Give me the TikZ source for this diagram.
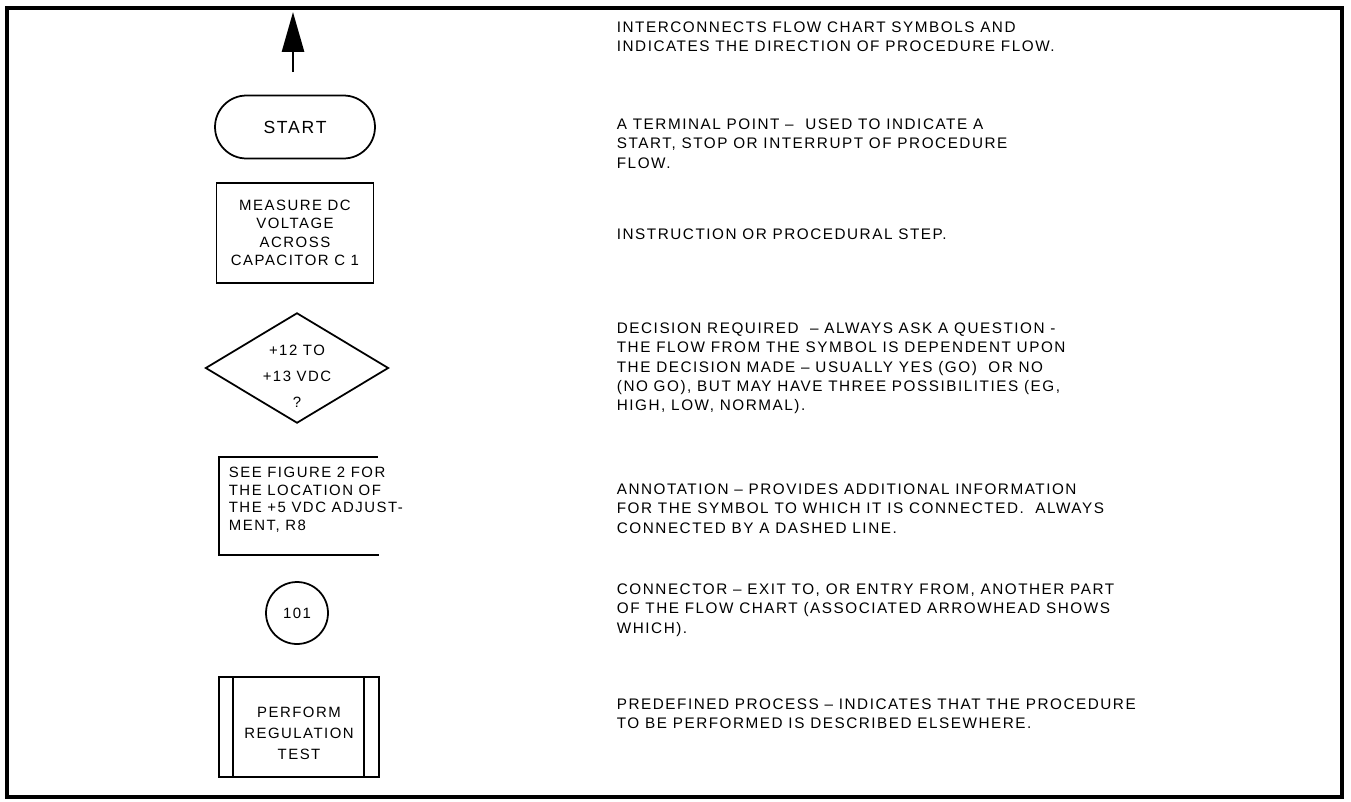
\documentclass[tikz,border=0pt]{standalone}
\usepackage{fontspec}
\newfontfamily\chartfont[LetterSpace=10]{Liberation Sans}
\usetikzlibrary{shapes.geometric, shapes.misc, arrows.meta}

\begin{document}
\begin{tikzpicture}[x=0.02cm, y=-0.02cm, line width=1pt,
  sym/.style={draw=black, inner sep=0pt, align=center, font=\chartfont\fontsize{8.5}{10.5}\selectfont},
  desc/.style={anchor=north west, inner sep=0pt, align=left, font=\chartfont\fontsize{8.7}{11}\selectfont}]
\useasboundingbox (0,0) rectangle (1351,801);
\draw[line width=1.8pt] (7,8) rectangle (1342,797);

% symbols
\coordinate (tail) at (293,72);
\coordinate (tip) at (293,12);
\node[sym, rounded rectangle, minimum width=3.2cm, minimum height=1.26cm, font=\chartfont\fontsize{10}{12}\selectfont] (start) at (295,127) {START};
\node[sym, rectangle, minimum width=3.14cm, minimum height=2cm] (step) at (295,233) {MEASURE DC\\VOLTAGE\\ACROSS\\CAPACITOR C 1};
\node[sym, diamond, aspect=1.66, minimum width=3.66cm, minimum height=2.2cm, font=\chartfont\fontsize{8.5}{14.7}\selectfont] (decide) at (297,368) {\raisebox{-0.17cm}[\height][\depth]{\parbox{1.6cm}{\centering +12 TO\\+13 VDC\\?}}};
\node[anchor=north west, inner xsep=0.18cm, inner ysep=0pt, minimum height=1.92cm, text depth=8pt, align=left, font=\chartfont\fontsize{8.5}{9.9}\selectfont] (note) at (219,457) {SEE FIGURE 2 FOR\\THE LOCATION OF\\THE +5 VDC ADJUST-\\MENT, R8};
\node[sym, circle, minimum size=1.24cm] (conn) at (297,613) {101};
\node[sym, rectangle, minimum width=3.2cm, minimum height=2cm, text height=37pt, text depth=0pt, font=\chartfont\fontsize{8.5}{11.9}\selectfont] (proc) at (299,727) {PERFORM\\REGULATION\\TEST};

\draw[line width=1.6pt, -{Triangle[length=0.8cm, width=0.44cm]}] (tail) -- (tip);
\draw ([xshift=3.18cm]note.north west) -- (note.north west) -- (note.south west) -- ([xshift=3.2cm]note.south west);
\draw ([xshift=0.3cm]proc.north west) -- ([xshift=0.3cm]proc.south west);
\draw ([xshift=-0.32cm]proc.north east) -- ([xshift=-0.32cm]proc.south east);

% meanings
\node[desc] (flowdesc) at (616,21) {INTERCONNECTS FLOW CHART SYMBOLS AND\\INDICATES THE DIRECTION OF PROCEDURE FLOW.};
\node[desc] (startdesc) at (616,118) {A TERMINAL POINT –~ USED TO INDICATE A\\START, STOP OR INTERRUPT OF PROCEDURE\\FLOW.};
\node[desc] (stepdesc) at (616,228) {INSTRUCTION OR PROCEDURAL STEP.};
\node[desc] (decidedesc) at (616,322) {DECISION REQUIRED ~– ALWAYS ASK A QUESTION -\\THE FLOW FROM THE SYMBOL IS DEPENDENT UPON\\THE DECISION MADE – USUALLY YES (GO)~ OR NO\\(NO GO), BUT MAY HAVE THREE POSSIBILITIES (EG,\\HIGH, LOW, NORMAL).};
\node[desc] (notedesc) at (616,483) {ANNOTATION – PROVIDES ADDITIONAL INFORMATION\\FOR THE SYMBOL TO WHICH IT IS CONNECTED.~ ALWAYS\\CONNECTED BY A DASHED LINE.};
\node[desc] (conndesc) at (616,583) {CONNECTOR – EXIT TO, OR ENTRY FROM, ANOTHER PART\\OF THE FLOW CHART (ASSOCIATED ARROWHEAD SHOWS\\WHICH).};
\node[desc] (procdesc) at (616,698) {PREDEFINED PROCESS – INDICATES THAT THE PROCEDURE\\TO BE PERFORMED IS DESCRIBED ELSEWHERE.};
\end{tikzpicture}
\end{document}
